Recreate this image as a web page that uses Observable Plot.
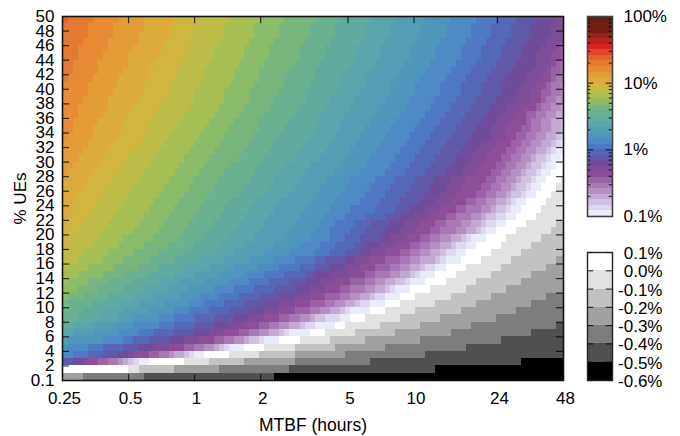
<!DOCTYPE html>
<html><head><meta charset="utf-8">
<script src="https://cdn.jsdelivr.net/npm/d3@7"></script>
<script src="https://cdn.jsdelivr.net/npm/@observablehq/plot@0.6"></script>
<style>html,body{margin:0;padding:0;background:#fff}#c{position:relative;width:680px;height:436px}#c svg{position:absolute;left:0;top:0;background:none}</style>
</head><body><div id="c"></div>
<script>
const xTicks=[0.25,0.5,1,2,5,10,24,48];
const yTicks=[0,2,4,6,8,10,12,14,16,18,20,22,24,26,28,30,32,34,36,38,40,42,44,46,48,50];
const bandColors=["#E8ECFB","#DDD8EF","#D1C1E1","#C3A8D1","#B58FC2","#A778B4","#9B62A7","#8C4E99","#7D4D9A","#6F4C9B","#6059A9","#5568B8","#4E79C5","#4D8AC6","#4E96BC","#549EB3","#59A5A9","#60AB9E","#69B190","#77B77D","#8CBC68","#A6BE54","#BEBC48","#D1B541","#DDAA3C","#E49C39","#E78C35","#E67932","#E4632D","#DF4828","#DA2222","#B8221E","#95211B","#721E17","#721E17","#691B15"];
const grayColors=["#000000","#505050","#7D7D7D","#A0A0A0","#C2C2C2","#E2E2E2","#FFFFFF"];
const grayLabels=["0.1%","0.0%","-0.1%","-0.2%","-0.3%","-0.4%","-0.5%","-0.6%"];
const logLabels=[[100,"100%"],[10,"10%"],[1,"1%"],[0.1,"0.1%"]];
// For each colour band: the grid column where the band ends, row by row, upward from the given first row.
const edge28=[1];
const edge27=[1,2,2,3,3,4,5,5,6];
const edge26=[1,2,2,3,3,4,5,5,6,7,7,8,9,9,10,10,11];
const edge25=[1,2,3,4,5,6,6,7,8,9,9,10,11,11,12,13,13,14,15,15,16,16];
const edge24=[1,1,2,2,3,4,5,6,7,8,9,10,11,12,12,13,14,15,16,16,17,17,18,19,20,20,21,21,22];
const edge23=[1,2,3,4,5,6,7,8,9,10,11,12,13,14,15,16,17,17,18,19,20,21,21,22,23,23,24,25,25,26,26,27];
const edge22=[1,3,4,6,7,8,9,10,11,12,13,14,15,16,17,18,19,20,21,22,23,24,25,26,26,27,28,28,29,30,30,31,32,32,33];
const edge21=[1,3,5,8,9,11,12,14,15,16,17,18,19,20,21,22,23,24,25,26,27,28,29,30,31,32,32,33,34,34,35,36,36,37,38,38,39];
const edge20=[1,3,5,8,10,12,14,16,18,19,20,21,22,23,24,25,26,27,28,29,30,31,32,33,34,35,36,37,37,38,39,39,40,41,41,42,43,43,44];
const edge19=[1,4,7,9,12,15,17,19,21,23,24,25,26,27,28,29,30,31,32,33,35,36,37,38,39,39,40,41,42,43,44,44,45,46,47,47,48,49,49,50];
const edge18=[3,4,6,9,12,14,17,19,22,24,26,28,29,30,31,32,33,35,36,37,38,39,40,41,42,43,44,45,46,47,48,48,49,50,50,51,52,52,53,54,54,55];
const edge17=[2,7,8,11,14,16,19,22,24,27,29,31,33,34,35,36,37,38,40,41,42,43,44,46,47,48,49,50,50,51,52,53,54,55,55,56,57,58,58,59,60,60,61];
const edge16=[2,6,11,12,15,18,21,23,26,29,32,34,36,38,39,40,41,42,43,45,46,47,48,49,51,52,53,54,55,55,56,57,58,59,60,60,61,62,63,63,64,65,65,66];
const edge15=[1,6,10,14,17,20,23,25,28,31,34,37,40,42,44,45,46,47,48,49,50,51,52,54,55,56,57,58,59,60,61,62,63,64,65,65,66,67,68,69,69,70,71,71,72];
const edge14=[1,8,11,14,19,22,25,27,30,33,36,39,42,45,47,49,50,51,52,53,54,55,56,57,59,60,61,62,63,64,65,66,67,68,69,70,70,71,72,73,74,74,75,76,76,77];
const edge13=[2,5,12,15,19,22,25,28,31,34,37,40,43,46,50,51,53,53,54,56,57,59,60,61,62,64,65,66,67,68,69,70,71,72,73,74,75,75,76,77,78,79,79,80,81,81,82];
const edge12=[5,8,14,18,22,26,29,32,35,38,41,44,47,50,53,54,56,57,58,60,62,63,64,65,66,68,69,70,71,72,73,74,75,76,77,78,79,79,80,81,82,83,83,84,85,85,86];
const edge11=[8,12,17,22,26,30,33,36,39,42,45,48,50,52,56,58,59,60,61,64,66,67,68,69,70,72,73,74,75,76,77,78,79,80,81,82,83,83,84,85,86,87,87,88,89,89,90];
const edge10=[2,11,15,21,26,30,34,37,40,43,46,48,50,53,56,59,60,63,64,65,67,69,71,72,73,74,76,77,78,79,80,81,82,83,84,85,86,87,87,88,89,90,91,91,92,93,93,94];
const edge9=[4,13,18,24,29,33,37,40,43,46,49,51,53,56,58,61,63,65,67,68,70,72,74,75,76,77,79,80,81,82,83,85,85,86,87,88,90,90,91,92,93,94,94,95,96,97,97,98];
const edge8=[5,14,21,27,32,36,40,43,46,49,52,54,57,59,61,64,66,68,70,71,73,75,77,78,79,80,82,83,84,85,86,88,88,89,90,91,93,93,94,95,96,97,97,98,99,100,100,100];
const edge7=[7,17,24,30,35,39,43,46,49,52,55,57,60,62,64,67,69,71,73,74,76,78,80,82,83,84,85,86,87,88,89,90,91,92,92,94,95,95,96,97,97,98,99,99,100];
const edge6=[9,19,26,32,37,41,45,49,52,55,57,60,62,65,67,69,71,73,75,76,78,80,82,84,85,86,87,88,89,90,91,92,93,93,94,95,96,97,97,98,99,99,100];
const edge5=[11,21,28,34,39,43,47,51,54,57,60,62,65,67,69,71,73,75,78,79,81,83,84,86,87,88,89,90,91,92,93,94,95,95,96,97,98,99,99,100];
const edge4=[12,22,30,36,41,45,49,53,56,59,62,64,67,69,71,73,75,77,80,81,83,85,86,88,89,90,91,92,93,94,95,96,97,97,98,99,100];
const edge3=[13,24,31,37,43,47,50,55,58,61,64,66,69,71,74,75,77,79,82,83,84,86,88,89,90,91,92,93,94,96,97,98,99,99,100];
const edge2=[14,25,32,39,44,48,52,56,59,62,65,68,70,72,75,76,78,80,83,84,86,88,89,91,92,93,94,95,96,97,98,99,100];
const edge1=[15,26,33,40,45,50,55,57,61,64,66,69,71,74,76,78,80,81,84,86,88,89,90,92,93,94,95,96,97,98,99,100];
const edge0=[17,28,36,43,49,54,57,61,64,67,69,72,74,76,79,80,82,84,86,88,90,91,92,94,95,96,97,98,99,100];
const edgeWhite=[13,24,33,40,47,52,56,60,64,67,70,73,76,78,80,83,85,87,88,90,92,94,95,96,97,98,99,100];
const edgeG1=[15,29,39,46,53,58,63,67,70,74,77,80,82,85,87,89,91,93,95,97,98,100];
const edgeG2=[22,36,46,54,60,66,71,75,79,82,85,88,91,93,96,98,100];
const edgeG3=[4,31,46,56,64,71,77,81,86,90,93,96,100];
const edgeG4=[16,45,61,72,80,87,93,98,100];
const edgeG5=[42,74,91,100];
const edgeTable=[[28,49,edge28],[27,41,edge27],[26,33,edge26],[25,28,edge25],[24,21,edge24],[23,18,edge23],[22,15,edge22],[21,13,edge21],[20,11,edge20],[19,10,edge19],[18,8,edge18],[17,7,edge17],[16,6,edge16],[15,5,edge15],[14,4,edge14],[13,3,edge13],[12,3,edge12],[11,3,edge11],[10,2,edge10],[9,2,edge9],[8,2,edge8],[7,2,edge7],[6,2,edge6],[5,2,edge5],[4,2,edge4],[3,2,edge3],[2,2,edge2],[1,2,edge1],[0,2,edge0],[-1,1,edgeWhite],[-2,1,edgeG1],[-3,1,edgeG2],[-4,0,edgeG3],[-5,0,edgeG4],[-6,0,edgeG5],[-7,0,[100]]];

const colHours=c=>c<=0?0.25:c>=100?48:0.25*Math.pow(2,(c+0.2)*0.0762);
const cells=[];
for(let r=0;r<50;r++){
  let prev=0;
  for(const [k,from,list] of edgeTable){
    const e=r<from?0:(r-from<list.length?list[r-from]:100);
    if(e>prev){cells.push({x1:colHours(prev),x2:colHours(e),y1:r,y2:r+1,band:k});prev=e;}
  }
}
const ids=d3.range(-7,36);
const fills=[...grayColors,...bandColors];
const font={fontFamily:"'Liberation Sans',Arial,sans-serif",fontSize:"17px",color:"#000",background:"transparent"};
const tickStyle={stroke:"#000",strokeWidth:1.2,strokeOpacity:0.75};
const inner=Math.pow(2,7/66);

const main=Plot.plot({
  width:680,height:436,marginLeft:62,marginRight:117,marginTop:16,marginBottom:56,style:font,
  x:{type:"log",base:2,domain:[0.25,48]},
  y:{domain:[0,50]},
  color:{type:"ordinal",domain:ids,range:fills},
  marks:[
    Plot.rect(cells,{x1:"x1",x2:"x2",y1:"y1",y2:"y2",fill:"band",shapeRendering:"crispEdges"}),
    Plot.ruleX(xTicks.slice(1,-1),{y1:49,y2:50,...tickStyle}),
    Plot.ruleX(xTicks.slice(1,-1),{y1:0,y2:0.8,...tickStyle}),
    Plot.ruleY(yTicks.slice(1,-1),{x1:0.25,x2:0.25*inner,...tickStyle}),
    Plot.ruleY(yTicks.slice(1,-1),{x1:48/inner,x2:48,...tickStyle}),
    Plot.frame({stroke:"#111",strokeWidth:1.6}),
    Plot.axisX({ticks:xTicks,tickSize:0,tickPadding:11,dx:2,tickFormat:d=>String(d),fontSize:17}),
    Plot.axisY({ticks:yTicks,tickSize:0,tickPadding:8,tickFormat:d=>d===0?"0.1":String(d),label:"% UEs",labelAnchor:"center",labelArrow:"none",labelOffset:49,fontSize:17}),
    Plot.text(["MTBF (hours)"],{frameAnchor:"bottom",dy:50,fontSize:17.5,fill:"#000"})
  ]
});

const logEdge=k=>0.1*Math.pow(10,k/12);
const logBands=bandColors.map((c,k)=>({y1:logEdge(k),y2:logEdge(k+1),band:k}));
const minor=[];
for(const d of [0.1,1,10]) for(const m of [2,3,4,5,6,7,8,9]) minor.push(d*m);
const major=[1,10];
const barLog=Plot.plot({
  width:680,height:436,marginLeft:587,marginRight:68,marginTop:16,marginBottom:220,style:font,
  x:{domain:[0,1],axis:null},
  y:{type:"log",domain:[0.1,100],axis:null},
  color:{type:"ordinal",domain:ids,range:fills},
  marks:[
    Plot.rect(logBands,{x1:0,x2:1,y1:"y1",y2:"y2",fill:"band",shapeRendering:"crispEdges"}),
    Plot.ruleY(minor,{x1:0,x2:0.13,...tickStyle}),
    Plot.ruleY(minor,{x1:0.87,x2:1,...tickStyle}),
    Plot.ruleY(major,{x1:0,x2:0.25,...tickStyle}),
    Plot.ruleY(major,{x1:0.75,x2:1,...tickStyle}),
    Plot.frame({stroke:"#444",strokeWidth:1.6}),
    Plot.text(logLabels,{x:1,y:d=>d[0],text:d=>d[1],dx:11,dy:0,textAnchor:"start",fontSize:17,fill:"#000"})
  ]
});

const grayStep=d3.range(8).map(i=>0.1-i*0.1);
const grayBands=grayColors.map((c,i)=>({y1:-0.6+i*0.1,y2:-0.5+i*0.1,band:i-7}));
const barGray=Plot.plot({
  width:680,height:436,marginLeft:587,marginRight:68,marginTop:252,marginBottom:56,style:font,
  x:{domain:[0,1],axis:null},
  y:{domain:[-0.6,0.1],axis:null},
  color:{type:"ordinal",domain:ids,range:fills},
  marks:[
    Plot.rect(grayBands,{x1:0,x2:1,y1:"y1",y2:"y2",fill:"band",shapeRendering:"crispEdges"}),
    Plot.ruleY(grayStep,{x1:0,x2:0.25,...tickStyle}),
    Plot.ruleY(grayStep,{x1:0.75,x2:1,...tickStyle}),
    Plot.frame({stroke:"#222",strokeWidth:1.4}),
    Plot.text(grayLabels,{x:1,y:(d,i)=>grayStep[i],text:d=>d,dx:50,dy:1,textAnchor:"end",fontSize:17,fill:"#000"})
  ]
});
const c=document.getElementById("c");
c.append(main,barLog,barGray);
</script></body></html>
